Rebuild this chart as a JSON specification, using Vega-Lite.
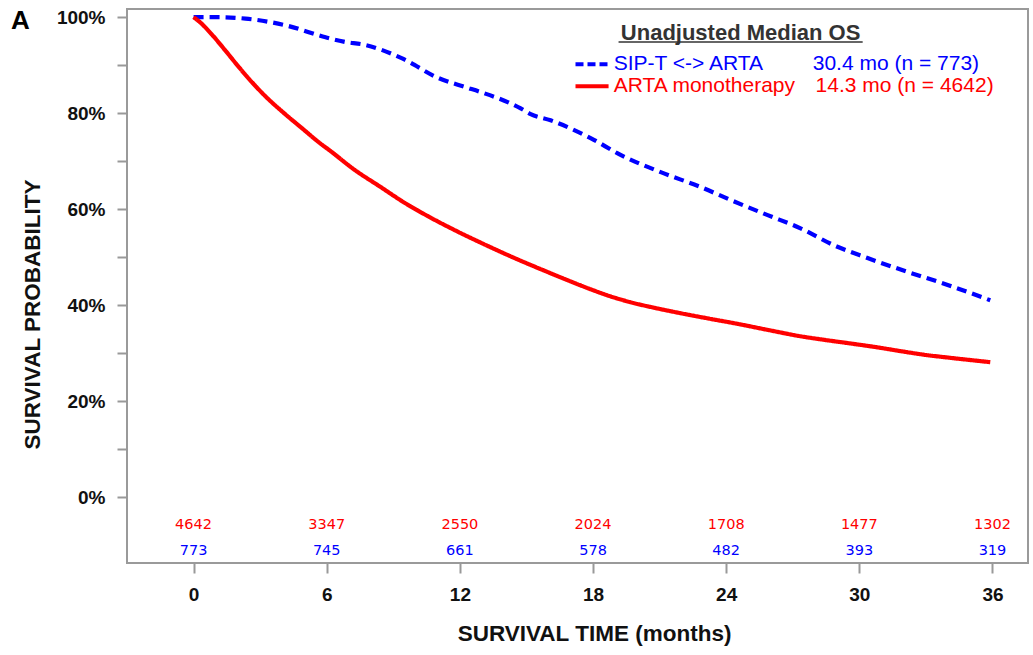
{
  "$schema": "https://vega.github.io/schema/vega-lite/v6.json",
  "width": 901,
  "height": 554,
  "autosize": {"type": "none"},
  "padding": {"left": 127, "top": 9, "right": 5, "bottom": 92},
  "background": "white",
  "config": {
    "view": {"stroke": "#9a9a9a", "strokeWidth": 2},
    "font": "Liberation Sans",
    "axis": {
      "domain": false,
      "grid": false,
      "tickColor": "#999999",
      "tickWidth": 2,
      "tickSize": 10,
      "labelFont": "Liberation Sans",
      "labelFontWeight": "bold",
      "labelFontSize": 19,
      "labelColor": "#111111",
      "labelFlush": false,
      "titleFont": "Liberation Sans",
      "titleFontWeight": "bold",
      "titleFontSize": 22.5,
      "titleColor": "#111111"
    }
  },
  "layer": [
    {
      "data": {
        "values": [
          {"time": 0, "surv": 100, "group": "SIP-T <-> ARTA"},
          {"time": 1.0, "surv": 100, "group": "SIP-T <-> ARTA"},
          {"time": 2.34, "surv": 99.7, "group": "SIP-T <-> ARTA"},
          {"time": 4.15, "surv": 98.3, "group": "SIP-T <-> ARTA"},
          {"time": 5.95, "surv": 95.8, "group": "SIP-T <-> ARTA"},
          {"time": 6.76, "surv": 94.9, "group": "SIP-T <-> ARTA"},
          {"time": 7.75, "surv": 94.2, "group": "SIP-T <-> ARTA"},
          {"time": 9.4, "surv": 91.4, "group": "SIP-T <-> ARTA"},
          {"time": 11.04, "surv": 87.3, "group": "SIP-T <-> ARTA"},
          {"time": 12.26, "surv": 85.4, "group": "SIP-T <-> ARTA"},
          {"time": 12.93, "surv": 84.4, "group": "SIP-T <-> ARTA"},
          {"time": 14.74, "surv": 81.0, "group": "SIP-T <-> ARTA"},
          {"time": 15.19, "surv": 79.8, "group": "SIP-T <-> ARTA"},
          {"time": 16.09, "surv": 78.5, "group": "SIP-T <-> ARTA"},
          {"time": 17.89, "surv": 74.8, "group": "SIP-T <-> ARTA"},
          {"time": 19.24, "surv": 71.3, "group": "SIP-T <-> ARTA"},
          {"time": 21.05, "surv": 67.7, "group": "SIP-T <-> ARTA"},
          {"time": 22.85, "surv": 64.6, "group": "SIP-T <-> ARTA"},
          {"time": 24.2, "surv": 61.9, "group": "SIP-T <-> ARTA"},
          {"time": 25.87, "surv": 58.75, "group": "SIP-T <-> ARTA"},
          {"time": 27.35, "surv": 56.0, "group": "SIP-T <-> ARTA"},
          {"time": 28.84, "surv": 52.5, "group": "SIP-T <-> ARTA"},
          {"time": 30.37, "surv": 49.8, "group": "SIP-T <-> ARTA"},
          {"time": 32.18, "surv": 46.9, "group": "SIP-T <-> ARTA"},
          {"time": 33.98, "surv": 44.2, "group": "SIP-T <-> ARTA"},
          {"time": 35.9, "surv": 41.0, "group": "SIP-T <-> ARTA"},
          {"time": 0, "surv": 100, "group": "ARTA monotherapy"},
          {"time": 0.3, "surv": 98.9, "group": "ARTA monotherapy"},
          {"time": 0.84, "surv": 96.3, "group": "ARTA monotherapy"},
          {"time": 1.44, "surv": 93.0, "group": "ARTA monotherapy"},
          {"time": 2.04, "surv": 89.6, "group": "ARTA monotherapy"},
          {"time": 2.64, "surv": 86.4, "group": "ARTA monotherapy"},
          {"time": 3.24, "surv": 83.5, "group": "ARTA monotherapy"},
          {"time": 4.15, "surv": 79.7, "group": "ARTA monotherapy"},
          {"time": 4.9, "surv": 76.8, "group": "ARTA monotherapy"},
          {"time": 5.65, "surv": 73.9, "group": "ARTA monotherapy"},
          {"time": 6.17, "surv": 72.1, "group": "ARTA monotherapy"},
          {"time": 7.22, "surv": 68.3, "group": "ARTA monotherapy"},
          {"time": 8.43, "surv": 64.6, "group": "ARTA monotherapy"},
          {"time": 9.48, "surv": 61.4, "group": "ARTA monotherapy"},
          {"time": 10.53, "surv": 58.6, "group": "ARTA monotherapy"},
          {"time": 11.73, "surv": 55.7, "group": "ARTA monotherapy"},
          {"time": 13.08, "surv": 52.7, "group": "ARTA monotherapy"},
          {"time": 14.56, "surv": 49.6, "group": "ARTA monotherapy"},
          {"time": 15.79, "surv": 47.2, "group": "ARTA monotherapy"},
          {"time": 16.9, "surv": 45.1, "group": "ARTA monotherapy"},
          {"time": 17.89, "surv": 43.3, "group": "ARTA monotherapy"},
          {"time": 18.8, "surv": 41.8, "group": "ARTA monotherapy"},
          {"time": 19.69, "surv": 40.6, "group": "ARTA monotherapy"},
          {"time": 20.8, "surv": 39.4, "group": "ARTA monotherapy"},
          {"time": 21.95, "surv": 38.3, "group": "ARTA monotherapy"},
          {"time": 23.2, "surv": 37.2, "group": "ARTA monotherapy"},
          {"time": 24.5, "surv": 36.1, "group": "ARTA monotherapy"},
          {"time": 25.9, "surv": 34.8, "group": "ARTA monotherapy"},
          {"time": 27.35, "surv": 33.5, "group": "ARTA monotherapy"},
          {"time": 28.5, "surv": 32.7, "group": "ARTA monotherapy"},
          {"time": 29.6, "surv": 32.0, "group": "ARTA monotherapy"},
          {"time": 30.8, "surv": 31.2, "group": "ARTA monotherapy"},
          {"time": 31.86, "surv": 30.4, "group": "ARTA monotherapy"},
          {"time": 33.0, "surv": 29.6, "group": "ARTA monotherapy"},
          {"time": 34.11, "surv": 29.0, "group": "ARTA monotherapy"},
          {"time": 35.9, "surv": 28.1, "group": "ARTA monotherapy"}
        ]
      },
      "mark": {"type": "line", "strokeWidth": 4.2, "clip": false, "interpolate": "monotone"},
      "encoding": {
        "x": {
          "field": "time",
          "type": "quantitative",
          "scale": {"domain": [-3, 37.6], "nice": false, "zero": false},
          "axis": {
            "values": [0, 6, 12, 18, 24, 30, 36],
            "title": "SURVIVAL TIME (months)",
            "labelPadding": 12,
            "titleX": 467,
            "titleY": 70,
            "titleBaseline": "middle"
          }
        },
        "y": {
          "field": "surv",
          "type": "quantitative",
          "scale": {"domain": [-13.75, 101.7], "nice": false, "zero": false},
          "axis": {
            "values": [0, 10, 20, 30, 40, 50, 60, 70, 80, 90, 100],
            "labelExpr": "datum.value % 20 === 0 ? datum.value + '%' : ''",
            "title": "SURVIVAL PROBABILITY",
            "labelPadding": 12,
            "titleX": -95,
            "titleY": 305,
            "titleAngle": -90,
            "titleBaseline": "middle"
          }
        },
        "color": {
          "field": "group",
          "type": "nominal",
          "scale": {"domain": ["SIP-T <-> ARTA", "ARTA monotherapy"], "range": ["#0000ff", "#ff0000"]},
          "legend": null
        },
        "strokeDash": {
          "field": "group",
          "type": "nominal",
          "scale": {"domain": ["SIP-T <-> ARTA", "ARTA monotherapy"], "range": [[10, 6], [1, 0]]},
          "legend": null
        }
      }
    },
    {
      "data": {
        "values": [
          {"time": 0, "n": 4642, "group": "ARTA monotherapy"},
          {"time": 6, "n": 3347, "group": "ARTA monotherapy"},
          {"time": 12, "n": 2550, "group": "ARTA monotherapy"},
          {"time": 18, "n": 2024, "group": "ARTA monotherapy"},
          {"time": 24, "n": 1708, "group": "ARTA monotherapy"},
          {"time": 30, "n": 1477, "group": "ARTA monotherapy"},
          {"time": 36, "n": 1302, "group": "ARTA monotherapy"},
          {"time": 0, "n": 773, "group": "SIP-T <-> ARTA"},
          {"time": 6, "n": 745, "group": "SIP-T <-> ARTA"},
          {"time": 12, "n": 661, "group": "SIP-T <-> ARTA"},
          {"time": 18, "n": 578, "group": "SIP-T <-> ARTA"},
          {"time": 24, "n": 482, "group": "SIP-T <-> ARTA"},
          {"time": 30, "n": 393, "group": "SIP-T <-> ARTA"},
          {"time": 36, "n": 319, "group": "SIP-T <-> ARTA"}
        ]
      },
      "layer": [
        {
          "transform": [{"filter": "datum.group === 'ARTA monotherapy'"}],
          "mark": {"type": "text", "font": "DejaVu Sans", "fontSize": 14.5, "color": "#ff0000", "align": "center", "baseline": "middle"},
          "encoding": {
            "x": {"field": "time", "type": "quantitative"},
            "y": {"datum": -5.83},
            "text": {"field": "n", "type": "nominal"}
          }
        },
        {
          "transform": [{"filter": "datum.group === 'SIP-T <-> ARTA'"}],
          "mark": {"type": "text", "font": "DejaVu Sans", "fontSize": 14.5, "color": "#0000ff", "align": "center", "baseline": "middle"},
          "encoding": {
            "x": {"field": "time", "type": "quantitative"},
            "y": {"datum": -11.25},
            "text": {"field": "n", "type": "nominal"}
          }
        }
      ]
    },
    {
      "data": {"values": [{"label": "Unadjusted Median OS"}]},
      "mark": {"type": "text", "fontSize": 22, "fontWeight": "bold", "color": "#333333", "align": "center", "baseline": "middle"},
      "encoding": {"x": {"datum": 24.65}, "y": {"datum": 96.6}, "text": {"field": "label"}}
    },
    {
      "data": {"values": [{"label": "underline"}]},
      "mark": {"type": "rule", "color": "#333333", "strokeWidth": 1.5},
      "encoding": {"x": {"datum": 19.15}, "x2": {"datum": 30.15}, "y": {"datum": 94.8}}
    },
    {
      "data": {"values": [{"label": "SIP-T <-> ARTA"}]},
      "mark": {"type": "text", "fontSize": 21, "color": "#0000ff", "align": "left", "baseline": "middle"},
      "encoding": {"x": {"datum": 18.93}, "y": {"datum": 90.2}, "text": {"field": "label"}}
    },
    {
      "data": {"values": [{"label": "30.4 mo (n = 773)"}]},
      "mark": {"type": "text", "fontSize": 21, "color": "#0000ff", "align": "left", "baseline": "middle"},
      "encoding": {"x": {"datum": 27.9}, "y": {"datum": 90.2}, "text": {"field": "label"}}
    },
    {
      "data": {"values": [{"label": "ARTA monotherapy"}]},
      "mark": {"type": "text", "fontSize": 21, "color": "#ff0000", "align": "left", "baseline": "middle"},
      "encoding": {"x": {"datum": 18.93}, "y": {"datum": 85.6}, "text": {"field": "label"}}
    },
    {
      "data": {"values": [{"label": "14.3 mo (n = 4642)"}]},
      "mark": {"type": "text", "fontSize": 21, "color": "#ff0000", "align": "left", "baseline": "middle"},
      "encoding": {"x": {"datum": 28.03}, "y": {"datum": 85.6}, "text": {"field": "label"}}
    },
    {
      "data": {"values": [{"label": "blue sample"}]},
      "mark": {"type": "rule", "color": "#0000ff", "strokeWidth": 4, "strokeDash": [8, 4]},
      "encoding": {"x": {"datum": 17.21}, "x2": {"datum": 18.7}, "y": {"datum": 90.2}}
    },
    {
      "data": {"values": [{"label": "red sample"}]},
      "mark": {"type": "rule", "color": "#ff0000", "strokeWidth": 4},
      "encoding": {"x": {"datum": 17.21}, "x2": {"datum": 18.7}, "y": {"datum": 85.6}}
    },
    {
      "data": {"values": [{"label": "A"}]},
      "mark": {"type": "text", "fontSize": 26, "fontWeight": "bold", "color": "#000000", "align": "center", "baseline": "middle"},
      "encoding": {"x": {"datum": -7.8}, "y": {"datum": 99.27}, "text": {"field": "label"}}
    }
  ]
}
